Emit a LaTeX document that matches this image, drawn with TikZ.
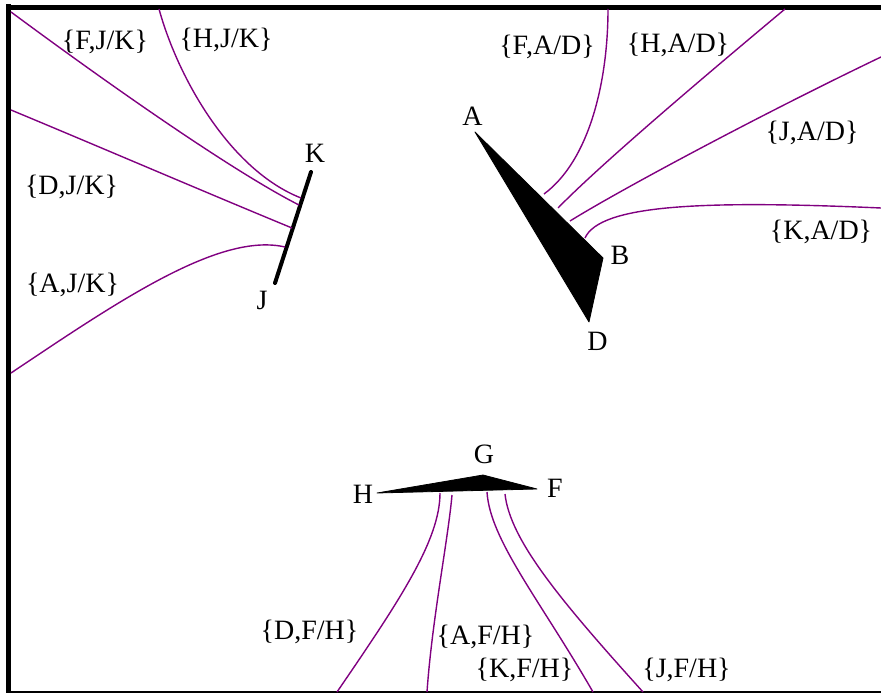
\documentclass[tikz,border=0pt]{standalone}
\usepackage{fontspec}
\setmainfont{Liberation Serif}
\begin{document}
\begin{tikzpicture}[x=1pt,y=-1pt,
  lbl/.style={inner sep=0pt,font=\fontsize{28}{32}\selectfont},
  cable/.style={draw={rgb,255:red,128;green,0;blue,128},line width=1.4pt},
  frame/.style={draw=black,line width=5pt},
  solid/.style={fill=black,draw=black,line width=0.8pt,line join=round}]
\useasboundingbox (0,0) rectangle (881,693);
% frame
\draw[frame] (8.5,4.5) -- (8.5,693);
\draw[frame] (6,7.5) -- (881,7.5);
\draw[line width=1.5pt] (11,692) -- (881,692);

% shapes
\coordinate (A) at (475,132);
\coordinate (B) at (603,258);
\coordinate (D) at (589,322);
\fill[solid] (A) -- (B) -- (D) -- cycle;
\coordinate (K) at (311,172);
\coordinate (J) at (275,283);
\draw[line width=4pt,line cap=round] (J) -- (K);
\coordinate (H) at (377,493);
\coordinate (G) at (483,475);
\coordinate (F) at (537,489);
\fill[solid] (H) -- (G) -- (F) -- cycle;

% vertex labels
\node[lbl] (lA) at (472.5,116) {A};
\node[lbl] (lB) at (620,255) {B};
\node[lbl] (lD) at (597.5,341.5) {D};
\node[lbl] (lK) at (315,153.5) {K};
\node[lbl] (lJ) at (262,300) {J};
\node[lbl] (lG) at (484,454) {G};
\node[lbl] (lH) at (363,494) {H};
\node[lbl] (lF) at (555,488.5) {F};

% set labels
\node[lbl] (fjk) at (105,41.5) {\{F,J/K\}};
\node[lbl] (hjk) at (226,40) {\{H,J/K\}};
\node[lbl] (djk) at (71.5,186.5) {\{D,J/K\}};
\node[lbl] (ajk) at (72.5,285) {\{A,J/K\}};
\node[lbl] (fad) at (547,46.5) {\{F,A/D\}};
\node[lbl] (had) at (678,44.5) {\{H,A/D\}};
\node[lbl] (jad) at (812,132.5) {\{J,A/D\}};
\node[lbl] (kad) at (821,231.5) {\{K,A/D\}};
\node[lbl] (dfh) at (309.5,631.5) {\{D,F/H\}};
\node[lbl] (afh) at (485.5,636.5) {\{A,F/H\}};
\node[lbl] (kfh) at (524.5,669.5) {\{K,F/H\}};
\node[lbl] (jfh) at (686.5,669.5) {\{J,F/H\}};

% curve end points
\coordinate (fjk0) at (11,12);   \coordinate (fjk1) at (299,205);
\coordinate (hjk0) at (159,9);   \coordinate (hjk1) at (301,198);
\coordinate (djk0) at (11,110);  \coordinate (djk1) at (292,228);
\coordinate (ajk0) at (11,373);  \coordinate (ajk1) at (285,247);
\coordinate (fad0) at (608,9);   \coordinate (fad1) at (544,194);
\coordinate (had0) at (785,9);   \coordinate (had1) at (558,208);
\coordinate (jad0) at (881,57);  \coordinate (jad1) at (570,221);
\coordinate (kad0) at (881,208); \coordinate (kad1) at (585,238);
\coordinate (dfh0) at (440,493); \coordinate (dfh1) at (337,692);
\coordinate (afh0) at (452,495); \coordinate (afh1) at (427,692);
\coordinate (kfh0) at (487,492); \coordinate (kfh1) at (593,692);
\coordinate (jfh0) at (505,494); \coordinate (jfh1) at (643,692);

% curves
\draw[cable] (fjk0) .. controls (130,100) and (240,175) .. (fjk1);
\draw[cable] (hjk0) .. controls (178,78) and (230,170) .. (hjk1);
\draw[cable] (djk0) .. controls (100,147) and (200,190) .. (djk1);
\draw[cable] (ajk0) .. controls (120,300) and (220,232) .. (ajk1);
\draw[cable] (fad0) .. controls (608,80) and (590,160) .. (fad1);
\draw[cable] (had0) .. controls (700,80) and (600,165) .. (had1);
\draw[cable] (jad0) .. controls (760,115) and (620,190) .. (jad1);
\draw[cable] (kad0) .. controls (700,200) and (600,205) .. (kad1);
\draw[cable] (dfh0) .. controls (440,540) and (400,600) .. (dfh1);
\draw[cable] (afh0) .. controls (448,540) and (432,620) .. (afh1);
\draw[cable] (kfh0) .. controls (490,540) and (540,600) .. (kfh1);
\draw[cable] (jfh0) .. controls (510,540) and (560,600) .. (jfh1);
\end{tikzpicture}
\end{document}
